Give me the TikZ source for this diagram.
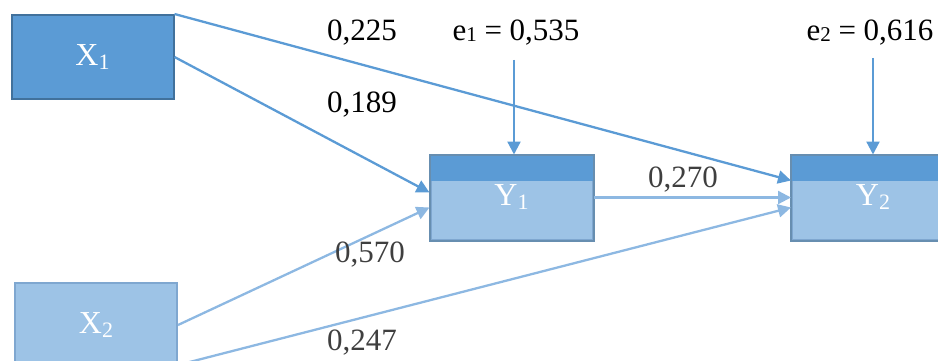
\documentclass[tikz,border=0pt]{standalone}
\usepackage{fontspec}
\setmainfont{Liberation Serif}
\usetikzlibrary{arrows.meta,calc}
\definecolor{bdark}{HTML}{5B9BD5}
\definecolor{bborder}{HTML}{41719C}
\definecolor{blight}{HTML}{9DC3E6}
\definecolor{blborder}{HTML}{7FA7D0}
\definecolor{alight}{HTML}{8DB8E2}
\definecolor{lgray}{HTML}{3F3F3F}
\newcommand{\sbs}[1]{{\fontsize{22}{22}\selectfont\raisebox{-4pt}{#1}}}
\newcommand{\esb}[1]{{\fontsize{21}{21}\selectfont\raisebox{-1pt}{#1}}}
\tikzset{
  box/.style={rectangle, minimum width=162pt, minimum height=84pt, inner sep=0pt,
    text=white, font=\fontsize{32}{32}\selectfont},
  darkbox/.style={box, fill=bdark, draw=bborder, line width=2pt},
  lightbox/.style={box, fill=blight, draw=blborder, line width=2pt},
  conn/.style={draw=bdark, line width=2.3pt, -{Triangle[length=13pt,width=13pt]}},
  connl/.style={draw=alight, line width=2.3pt, -{Triangle[length=13pt,width=13pt]}},
  lab/.style={font=\fontsize{31}{31}\selectfont, text=black, inner sep=0pt},
  labg/.style={lab, text=lgray},
}
\begin{document}
\begin{tikzpicture}[x=1pt,y=-1pt]
\useasboundingbox (0,0) rectangle (938,361);
\node[darkbox] (X1) at (92.5,57) {X\sbs{1}};
\node[lightbox] (X2) at (96,325) {X\sbs{2}};
\node[lightbox] (Y1) at (511.5,197.5) {};
\fill[bdark] ($(Y1.north west)+(1,1)$) rectangle ($(Y1.north east)+(-1,26)$);
\draw[bborder!80, line width=2pt] (Y1.north west) rectangle (Y1.south east);
\node[box] at (Y1.center) {Y\sbs{1}};
\node[lightbox] (Y2) at (873,197.5) {};
\fill[bdark] ($(Y2.north west)+(1,1)$) rectangle ($(Y2.north east)+(-1,26)$);
\draw[bborder!80, line width=2pt] (Y2.north west) rectangle (Y2.south east);
\node[box] at (Y2.center) {Y\sbs{2}};

\node[lab] (e1) at (516,33) {e\esb{1} = 0,535};
\node[lab] (e2) at (870,33) {e\esb{2} = 0,616};
\coordinate (e1s) at (514,60);
\coordinate (e2s) at (873,58);
\draw[conn] (e1s) -- (e1s |- Y1.north);
\draw[conn] (e2s) -- (e2s |- Y2.north);

\draw[conn] (X1.north east) -- ($(Y2.west)+(0,-17)$);
\draw[conn] (X1.east) -- ($(Y1.west)+(0,-5)$);
\draw[connl] (X2.east) -- ($(Y1.west)+(0,10)$);
\draw[connl] ($(X2.south east)+(0,-3)$) -- ($(Y2.west)+(0,10)$);
\draw[connl] (Y1.east) -- ($(Y2.west)+(0,0)$);

\node[lab] (l225) at (362,33) {0,225};
\node[lab] (l189) at (362,105) {0,189};
\node[labg] (l570) at (370,255) {0,570};
\node[labg] (l247) at (362,343) {0,247};
\node[labg] (l270) at (683,180) {0,270};
\end{tikzpicture}
\end{document}
